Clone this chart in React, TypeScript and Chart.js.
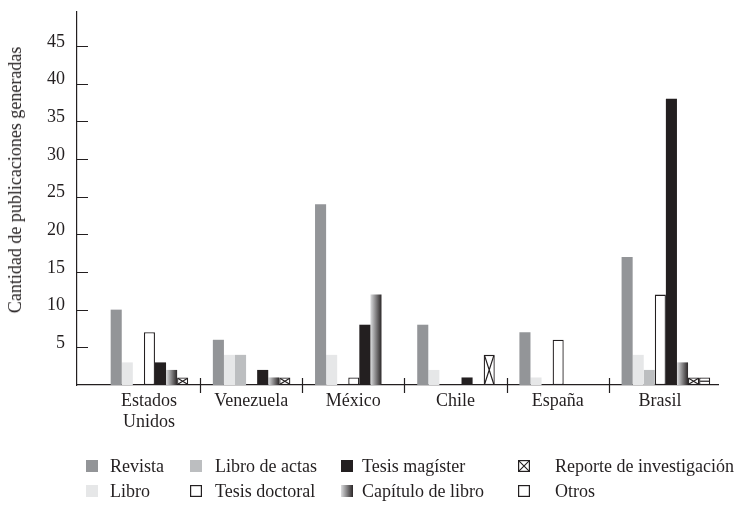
import React, { useEffect, useRef } from 'react';
import { Chart, registerables } from 'chart.js';

Chart.register(...registerables);

// ---- data ----
const categories: (string | string[])[] = [['Estados', 'Unidos'], 'Venezuela', 'México', 'Chile', 'España', 'Brasil'];
const seriesNames = [
  'Revista',
  'Libro',
  'Libro de actas',
  'Tesis doctoral',
  'Tesis magíster',
  'Capítulo de libro',
  'Reporte de investigación',
  'Otros',
];
const revista = [10, 6, 24, 8, 7, 17];
const libro = [3, 4, 4, 2, 1, 4];
const libroActas = [0, 4, 0, 0, 0, 2];
const tesisDoctoral = [7, 0, 1, 0, 6, 12];
const tesisMagister = [3, 2, 8, 1, 0, 38];
const capituloLibro = [2, 1, 12, 0, 0, 3];
const reporteInvestigacion = [1, 1, 0, 4, 0, 1];
const otros = [0, 0, 0, 0, 0, 1];
const yTickValues = [5, 10, 15, 20, 25, 30, 35, 40, 45];
const yTitle = 'Cantidad de publicaciones generadas';

const seriesValues = [revista, libro, libroActas, tesisDoctoral, tesisMagister, capituloLibro, reporteInvestigacion, otros];

// ---- styles ----
const FONT = "'Liberation Serif', 'Times New Roman', serif";
const INK = '#231f20';
type Kind = 'fill' | 'outline' | 'gradient' | 'cross' | 'lines';
const seriesStyle: { kind: Kind; color: string }[] = [
  { kind: 'fill', color: '#939598' },
  { kind: 'fill', color: '#e6e7e8' },
  { kind: 'fill', color: '#bcbec0' },
  { kind: 'outline', color: '#ffffff' },
  { kind: 'fill', color: INK },
  { kind: 'gradient', color: '#939598' },
  { kind: 'cross', color: '#ffffff' },
  { kind: 'lines', color: '#ffffff' },
];
const GRAD_FROM = '#dcdddf';
const GRAD_TO = '#2b2728';
const LABEL_SHIFT = -6;

const legendCols = [
  { icon: 86, text: 110 },
  { icon: 190, text: 215 },
  { icon: 341, text: 362 },
  { icon: 518, text: 555 },
];
const legendRows = [466, 491];

const barDecor = {
  id: 'barDecor',
  beforeDatasetsDraw(chart: any) {
    chart.data.datasets.forEach((ds: any, di: number) => {
      if (seriesStyle[di].kind !== 'gradient') return;
      const meta = chart.getDatasetMeta(di);
      meta.data.forEach((el: any) => {
        const { x, width } = el.getProps(['x', 'width'], true);
        const g = chart.ctx.createLinearGradient(x - width / 2, 0, x + width / 2, 0);
        g.addColorStop(0, GRAD_FROM);
        g.addColorStop(1, GRAD_TO);
        el.options.backgroundColor = g;
      });
    });
  },
  afterDatasetsDraw(chart: any) {
    const ctx = chart.ctx;
    ctx.save();
    ctx.strokeStyle = INK;
    ctx.lineWidth = 1.2;
    chart.data.datasets.forEach((ds: any, di: number) => {
      const kind = seriesStyle[di].kind;
      if (kind !== 'cross' && kind !== 'lines') return;
      const meta = chart.getDatasetMeta(di);
      meta.data.forEach((el: any, i: number) => {
        if (!seriesValues[di][i]) return;
        const { x, y, base, width } = el.getProps(['x', 'y', 'base', 'width'], true);
        const l = x - width / 2 + 1, r = x + width / 2 - 1, t = y + 1, b = base - 1;
        ctx.beginPath();
        if (kind === 'cross') {
          ctx.moveTo(l, t); ctx.lineTo(r, b);
          ctx.moveTo(r, t); ctx.lineTo(l, b);
        } else {
          const m = (t + b) / 2;
          ctx.moveTo(l, m); ctx.lineTo(r, m);
        }
        ctx.stroke();
      });
    });
    ctx.restore();
  },
};

const axisMarks = {
  id: 'axisMarks',
  afterDraw(chart: any) {
    const { ctx, chartArea } = chart;
    const xs = chart.scales.x;
    const ys = chart.scales.y;
    ctx.save();
    ctx.strokeStyle = INK;
    ctx.lineWidth = 1.2;
    ctx.beginPath();
    yTickValues.forEach((v) => {
      const py = Math.round(ys.getPixelForValue(v)) + 0.5;
      ctx.moveTo(chartArea.left, py);
      ctx.lineTo(chartArea.left + 11, py);
    });
    for (let i = 0; i < categories.length - 1; i++) {
      const px = Math.round(xs.getPixelForValue(i + 0.5) + LABEL_SHIFT) + 0.5;
      ctx.moveTo(px, chartArea.bottom - 7);
      ctx.lineTo(px, chartArea.bottom + 8);
    }
    ctx.stroke();
    ctx.restore();
  },
};

function LegendIcon({ k }: { k: number }) {
  const s = seriesStyle[k];
  const gid = 'lg' + k;
  return (
    <svg width={12} height={12} style={{ display: 'block' }}>
      {s.kind === 'gradient' && (
        <defs>
          <linearGradient id={gid} x1="0" x2="1" y1="0" y2="0">
            <stop offset="0" stopColor={GRAD_FROM} />
            <stop offset="1" stopColor={GRAD_TO} />
          </linearGradient>
        </defs>
      )}
      {s.kind === 'fill' && <rect x={0} y={0} width={12} height={12} fill={s.color} />}
      {s.kind === 'gradient' && <rect x={0} y={0} width={12} height={12} fill={`url(#${gid})`} />}
      {(s.kind === 'outline' || s.kind === 'cross' || s.kind === 'lines') && (
        <rect x={0.6} y={0.6} width={10.8} height={10.8} fill="#fff" stroke={INK} strokeWidth={1.2} />
      )}
      {s.kind === 'cross' && (
        <path d="M0.6 0.6 L11.4 11.4 M11.4 0.6 L0.6 11.4" stroke={INK} strokeWidth={1.1} />
      )}
    </svg>
  );
}

export default function App() {
  const ref = useRef<HTMLCanvasElement>(null);

  useEffect(() => {
    if (!ref.current) return;
    Chart.defaults.font.family = FONT;
    Chart.defaults.color = INK;
    const chart = new Chart(ref.current, {
      type: 'bar',
      data: {
        datasets: seriesNames.map((name, k) => {
          const st = seriesStyle[k];
          const bordered = st.kind === 'outline' || st.kind === 'cross' || st.kind === 'lines';
          return {
            label: name,
            data: seriesValues[k].map((v, i) => ({ x: i, y: v })),
            backgroundColor: st.kind === 'gradient' ? () => st.color : st.color,
            borderColor: INK,
            borderWidth: bordered ? 1.3 : 0,
            borderSkipped: false,
          } as any;
        }),
      },
      options: {
        animation: false,
        responsive: false,
        events: [],
        layout: { padding: { top: 12, right: 19, bottom: 85, left: 0 } },
        datasets: { bar: { barPercentage: 1, categoryPercentage: 0.867 } },
        plugins: { legend: { display: false }, tooltip: { enabled: false } },
        scales: {
          x: {
            type: 'linear',
            offset: false,
            min: -0.763,
            max: 5.51,
            afterBuildTicks: (s: any) => {
              s.ticks = categories.map((_, i) => ({ value: i }));
            },
            afterFit: (s: any) => {
              s.height = 60;
              s.paddingLeft = 0;
              s.paddingRight = 0;
            },
            grid: { display: false, drawTicks: false },
            border: { display: true, color: INK, width: 1.2 },
            ticks: {
              callback: (v: any) => categories[v as number],
              font: { size: 18, lineHeight: 1.2 },
              color: INK,
              padding: 5,
              labelOffset: LABEL_SHIFT,
              maxRotation: 0,
              autoSkip: false,
            },
          },
          y: {
            min: 0,
            max: 49.5,
            afterBuildTicks: (s: any) => {
              s.ticks = yTickValues.map((v) => ({ value: v }));
            },
            afterFit: (s: any) => {
              s.width = 77;
              s.paddingTop = 0;
              s.paddingBottom = 0;
            },
            grid: { display: false, drawTicks: false },
            border: { display: true, color: INK, width: 1.2 },
            ticks: { font: { size: 18 }, color: INK, padding: 12, labelOffset: -4 },
          },
        },
      } as any,
      plugins: [barDecor, axisMarks],
    });
    return () => chart.destroy();
  }, []);

  return (
    <div style={{ position: 'absolute', left: 0, top: 0, width: 737, height: 530, background: '#fff', fontFamily: FONT, color: INK }}>
      <canvas ref={ref} width={737} height={530} style={{ display: 'block', width: 737, height: 530 }} />
      <div
        style={{
          position: 'absolute',
          left: 15,
          top: 180,
          transform: 'translate(-50%, -50%) rotate(-90deg)',
          whiteSpace: 'nowrap',
          fontSize: 18,
          lineHeight: '20px',
        }}
      >
        {yTitle}
      </div>
      {seriesNames.map((name, k) => {
        const col = legendCols[Math.floor(k / 2)];
        const rowY = legendRows[k % 2];
        return (
          <React.Fragment key={name}>
            <div style={{ position: 'absolute', left: col.icon, top: rowY - 6 }}>
              <LegendIcon k={k} />
            </div>
            <div
              style={{
                position: 'absolute',
                left: col.text,
                top: rowY - 10,
                fontSize: 18,
                lineHeight: '20px',
                whiteSpace: 'nowrap',
              }}
            >
              {name}
            </div>
          </React.Fragment>
        );
      })}
    </div>
  );
}
